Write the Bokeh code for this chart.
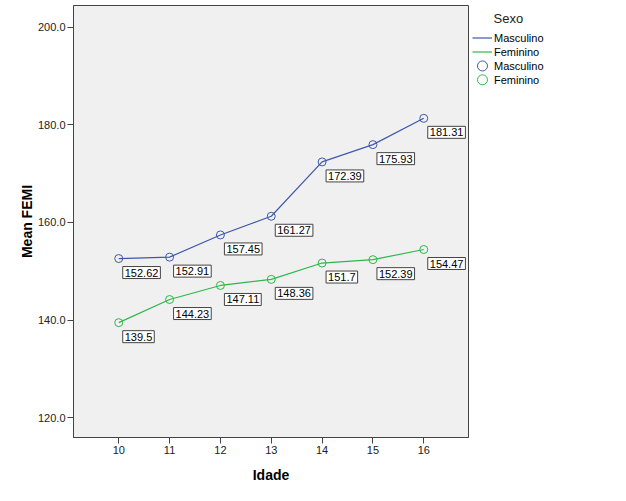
from bokeh.plotting import figure
from bokeh.layouts import row
from bokeh.models import (ColumnDataSource, Legend, LegendItem, Label,
                          FixedTicker, PrintfTickFormatter, Range1d)
from bokeh.core.properties import value
from bokeh.embed import file_html
from bokeh.resources import INLINE

idade = [10, 11, 12, 13, 14, 15, 16]
masc = [152.62, 152.91, 157.45, 161.27, 172.39, 175.93, 181.31]
fem = [139.5, 144.23, 147.11, 148.36, 151.7, 152.39, 154.47]
masc_lbl = ["152.62", "152.91", "157.45", "161.27", "172.39", "175.93", "181.31"]
fem_lbl = ["139.5", "144.23", "147.11", "148.36", "151.7", "152.39", "154.47"]
y_ticks = [120, 140, 160, 180, 200]
series = ["Masculino", "Feminino"]

BLUE = "#3E58AC"
GREEN = "#2EB848"
FONT = "Liberation Sans"
H = 485
TOP = 5
BOTTOM = 44
FRAME_H = H - TOP - BOTTOM
P2_W = 141

p = figure(width=469, height=H, output_backend="svg", toolbar_location=None,
           x_range=Range1d(9.11, 16.88), y_range=Range1d(116.0, 204.4),
           min_border_left=73, min_border_right=1, min_border_top=TOP,
           min_border_bottom=BOTTOM)
p.background_fill_color = "#F0F0F0"
p.border_fill_color = "white"
p.outline_line_color = "#444444"
p.outline_line_width = 1
p.grid.visible = False

src_m = ColumnDataSource(dict(x=idade, y=masc, t=masc_lbl))
src_f = ColumnDataSource(dict(x=idade, y=fem, t=fem_lbl))

p.line("x", "y", source=src_m, line_color=BLUE, line_width=1.2)
p.line("x", "y", source=src_f, line_color=GREEN, line_width=1.2)
p.scatter("x", "y", source=src_m, marker="circle", size=8, fill_alpha=0,
          line_color=BLUE, line_width=1)
p.scatter("x", "y", source=src_f, marker="circle", size=8, fill_alpha=0,
          line_color=GREEN, line_width=1)

for src in (src_m, src_f):
    p.text(x="x", y="y", text="t", source=src, x_offset=4, y_offset=8,
           text_align="left", text_baseline="top",
           text_font=value(FONT), text_font_size="11px", text_color="black",
           background_fill_color="white", border_line_color="#444444",
           border_line_width=1, padding=2)

# axes
p.xaxis.ticker = FixedTicker(ticks=idade)
p.yaxis.ticker = FixedTicker(ticks=y_ticks)
p.yaxis.formatter = PrintfTickFormatter(format="%.1f")
for ax in (p.xaxis, p.yaxis):
    ax.axis_line_color = "#444444"
    ax.major_tick_line_color = "#444444"
    ax.major_tick_in = 0
    ax.major_tick_out = 6
    ax.minor_tick_line_color = None
    ax.major_label_text_font = FONT
    ax.major_label_text_font_size = "11px"
    ax.major_label_text_color = "#222222"
    ax.major_label_standoff = 2
    ax.axis_label_text_font = FONT
    ax.axis_label_text_font_style = "bold"
    ax.axis_label_text_font_size = "14px"
    ax.axis_label_text_color = "black"
p.xaxis.axis_label = "Idade"
p.yaxis.axis_label = "Mean FEMI"
p.xaxis.axis_label_standoff = 10
p.yaxis.axis_label_standoff = 0

# legend panel (pixel-unit ranges; its frame matches the main frame vertically)
p2 = figure(width=P2_W, height=H, output_backend="svg", toolbar_location=None,
            x_range=Range1d(0, P2_W), y_range=Range1d(0, FRAME_H),
            min_border_left=0, min_border_right=0, min_border_top=TOP,
            min_border_bottom=BOTTOM, x_axis_type=None, y_axis_type=None)
p2.outline_line_color = None
p2.background_fill_color = "white"
p2.border_fill_color = "white"
p2.grid.visible = False
# off-range placeholder glyphs used only for the legend swatches
dm_l = p2.line(x=[-50, -40], y=[-50, -40], line_color=BLUE, line_width=1.2)
df_l = p2.line(x=[-50, -40], y=[-50, -40], line_color=GREEN, line_width=1.2)
blank = p2.scatter(x=[-50], y=[-50], marker="circle", size=1, fill_alpha=0,
                   line_alpha=0)

legend = Legend(items=[
    LegendItem(label=series[0], renderers=[dm_l]),
    LegendItem(label=series[1], renderers=[df_l]),
    LegendItem(label=series[0], renderers=[blank]),
    LegendItem(label=series[1], renderers=[blank]),
], location=(3, FRAME_H - 85))
legend.label_text_font = FONT
legend.label_text_font_size = "11px"
legend.label_text_color = "black"
legend.label_standoff = 2
legend.label_height = 13
legend.glyph_height = 13
legend.glyph_width = 20
legend.spacing = 1
legend.padding = 0
legend.margin = 0
legend.border_line_color = None
legend.background_fill_alpha = 0
p2.add_layout(legend)

# larger circle swatches for the marker legend entries
sw = ColumnDataSource(dict(x=[13, 13], y=[FRAME_H - 61, FRAME_H - 75],
                           c=[BLUE, GREEN]))
p2.scatter("x", "y", source=sw, marker="circle", size=10, fill_alpha=0,
           line_color="c", line_width=1)

p2.add_layout(Label(x=24, y=FRAME_H - 17, x_units="screen", y_units="screen",
                    text="Sexo", text_baseline="middle", text_align="left",
                    text_font=FONT, text_font_size="13px",
                    text_color="#222222"))

open("out.html", "w").write(file_html(row(p, p2), INLINE))
